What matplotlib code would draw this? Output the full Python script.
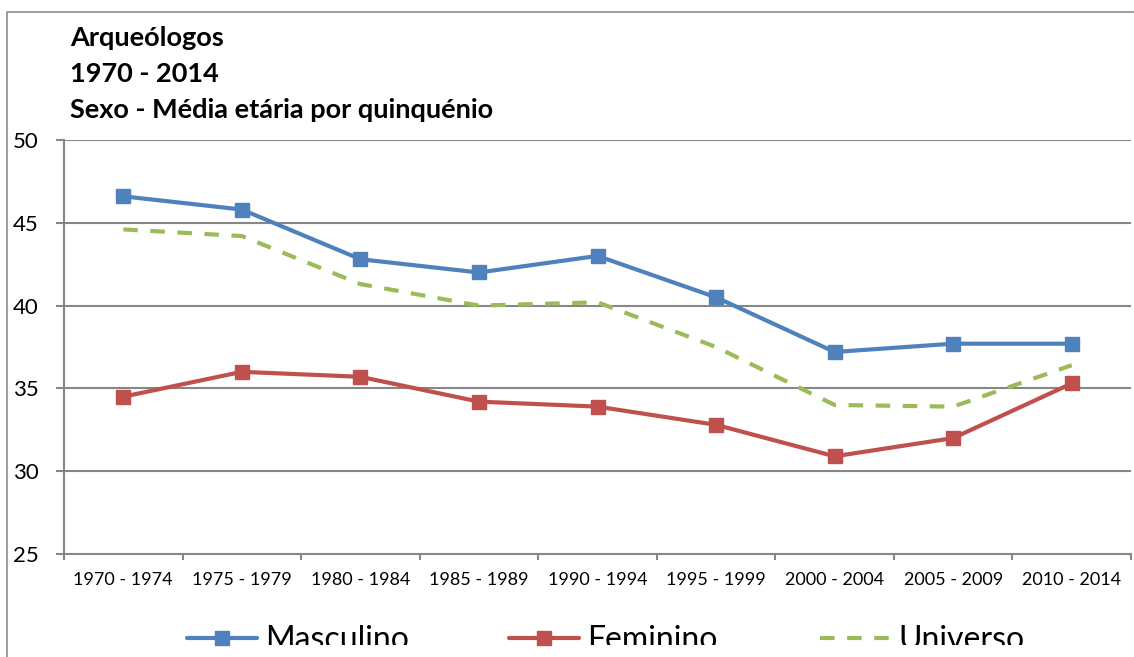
import numpy as np
import matplotlib.pyplot as plt
from matplotlib.patches import Rectangle
from matplotlib.transforms import Bbox

# ---------------------------------------------------------
# Dados
# ---------------------------------------------------------
quinquenios = ["1970 - 1974", "1975 - 1979", "1980 - 1984", "1985 - 1989",
               "1990 - 1994", "1995 - 1999", "2000 - 2004", "2005 - 2009",
               "2010 - 2014"]
masculino = [46.6, 45.8, 42.8, 42.0, 43.0, 40.5, 37.2, 37.7, 37.7]
feminino = [34.5, 36.0, 35.7, 34.2, 33.9, 32.8, 30.9, 32.0, 35.3]
universo = [44.6, 44.2, 41.3, 40.0, 40.2, 37.5, 34.0, 33.9, 36.4]

titulo = ["Arqueólogos", "1970 - 2014", "Sexo - Média etária por quinquénio"]

plt.rcParams["font.family"] = ["Lato", "DejaVu Sans"]

W, H = 1134, 657
fig = plt.figure(figsize=(W / 100, H / 100), dpi=100)
ax = fig.add_axes([64 / W, 1 - 554 / H, (1131 - 64) / W, (554 - 140) / H])

# moldura do gráfico (cortada à direita e em baixo)
fig.add_artist(Rectangle((7 / W, -0.1), 1.2, 1 - 12 / H + 0.1,
                         transform=fig.transFigure, fill=False,
                         edgecolor="#8c8c8c", lw=1.2))

x = np.arange(len(quinquenios))
grid_c = "#878787"

ax.set_ylim(25, 50)
ax.set_xlim(-0.5, len(quinquenios) - 0.5)
ax.set_yticks(range(25, 51, 5))
for v in range(30, 51, 5):
    ax.axhline(v, color=grid_c, lw=1.5, zorder=1)

l1, = ax.plot(x, masculino, color="#4F81BD", lw=3, marker="s", ms=10,
              label="Masculino", zorder=3, solid_capstyle="round")
l2, = ax.plot(x, feminino, color="#C0504D", lw=3, marker="s", ms=10,
              label="Feminino", zorder=3, solid_capstyle="round")
l3, = ax.plot(x, universo, color="#9BBB59", lw=3, ls=(0, (3.5, 3)),
              label="Universo", zorder=2)

for s in ["top", "right"]:
    ax.spines[s].set_visible(False)
for s in ["left", "bottom"]:
    ax.spines[s].set_color(grid_c)
    ax.spines[s].set_linewidth(1.5)

ax.set_xticks(x)
ax.set_xticklabels(quinquenios, fontsize=13)
ax.set_xticks(np.arange(-0.5, len(quinquenios)), minor=True)
ax.tick_params(axis="x", which="major", length=0, pad=13)
ax.tick_params(axis="x", which="minor", length=4.5, color=grid_c, width=1.5)
ax.tick_params(axis="y", length=6, color=grid_c, width=1.5, labelsize=16, pad=12)

# título em três linhas
for i, linha in enumerate(titulo):
    fig.text(70 / W, 1 - (46 + 36 * i) / H, linha, fontsize=19.5,
             fontweight="bold", va="baseline", ha="left")

# legenda: uma entrada por posição, cortada em baixo como no original
clip = Bbox.from_extents(0, H - 645, W, H)
for h, x0 in zip([l1, l2, l3], [187, 509, 820]):
    leg = fig.legend(handles=[h], loc="center left",
                     bbox_to_anchor=(x0 / W, 1 - 640 / H), frameon=False,
                     fontsize=23, handlelength=2.2, handletextpad=0.25,
                     borderpad=0, borderaxespad=0)
    for t in leg.get_texts():
        t.set_clip_box(clip)
        t.set_clip_on(True)

fig.savefig("out.png", dpi=100)
